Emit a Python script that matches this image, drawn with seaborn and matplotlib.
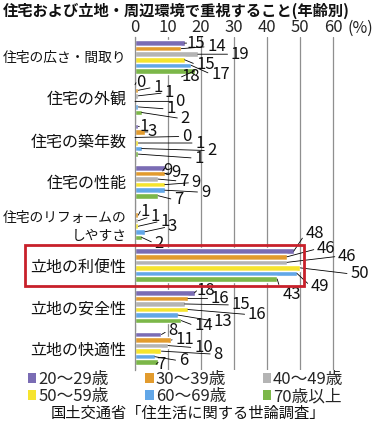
import matplotlib
matplotlib.use("Agg")
import matplotlib.pyplot as plt
import seaborn as sns
import pandas as pd
from matplotlib.patches import Patch, Rectangle

# ---------------- data ----------------
categories = ["住宅の広さ・間取り", "住宅の外観", "住宅の築年数", "住宅の性能",
              "住宅のリフォームの\nしやすさ", "立地の利便性", "立地の安全性", "立地の快適性"]
age_groups = ["20～29歳", "30～39歳", "40～49歳", "50～59歳", "60～69歳", "70歳以上"]
v20s = [15, 0, 1, 9, 0, 48, 18, 8]
v30s = [14, 1, 3, 9, 1, 46, 16, 11]
v40s = [19, 1, 0, 7, 1, 46, 15, 10]
v50s = [15, 0, 1, 9, 1, 50, 16, 8]
v60s = [17, 1, 2, 9, 3, 49, 13, 6]
v70s = [18, 2, 1, 7, 2, 43, 14, 7]
x_ticks = [0, 10, 20, 30, 40, 50, 60]
title = "住宅および立地・周辺環境で重視すること(年齢別)"
source = "国土交通省「住生活に関する世論調査」"
highlight_category = "立地の利便性"

# ---------------- style ----------------
colors = ["#7a6cb4", "#e29b2d", "#b4b4b4", "#f6e42e", "#62a7e8", "#7cb749"]
# label offsets (pixels, dx right, dy down) per category, per age group
label_offsets = [
    [(2, 0), (26, -2), (33, 0), (12, 5), (20, 9), (-13, 6)],
    [(1, -2), (15, -3), (26, -3), (40, 0), (28, 2), (39, 6)],
    [(1, 0), (3, 0), (47, -1), (57, 0), (66, 2), (56, 4)],
    [(-2, 3), (7, -1), (21, 2), (27, -2), (36, 2), (16, 4)],
    [None, (2, -4), (12, -4), (22, -5), (23, -5), (13, 6)],
    [(12, -18), (30, -8), (51, -6), (50, 6), (14, 13), (5, 16)],
    [(2, -2), (23, 0), (47, 1), (60, 5), (36, 6), (13, 5)],
    [(7, -4), (4, -1), (26, 2), (52, 3), (24, 4), (-2, 2)],
]

sns.set_style("white")
plt.rcParams["font.family"] = ["Noto Sans CJK JP", "DejaVu Sans"]

series = [v20s, v30s, v40s, v50s, v60s, v70s]
rows = []
for g, vals in zip(age_groups, series):
    for c, v in zip(categories, vals):
        rows.append({"category": c, "age": g, "value": v})
df = pd.DataFrame(rows)

fig = plt.figure(figsize=(3.73, 4.25), dpi=100)
ax = fig.add_axes([135 / 373, 1 - 370 / 425, 1 - 135 / 373, 333 / 425])

sns.barplot(data=df, y="category", x="value", hue="age", order=categories,
            hue_order=age_groups, palette=colors, orient="h", width=0.8,
            saturation=1, legend=False, ax=ax, errorbar=None)

ax.set_xlim(0, 72)
ax.set_ylim(7.52, -0.48)
ax.set_xticks(x_ticks)
ax.set_xticklabels([str(t) for t in x_ticks])
ax.xaxis.tick_top()
ax.tick_params(axis="x", length=0, pad=1, labelsize=12)
ax.tick_params(axis="y", length=0, pad=6)
for lbl in ax.get_yticklabels():
    txt = lbl.get_text()
    first = txt.split("\n")[0]
    lbl.set_fontsize(9.9 if len(first) > 7 else 11.5)
    lbl.set_multialignment("right")
    lbl.set_linespacing(1.35)
    lbl.set_color("#111111")
ax.set_xlabel("")
ax.set_ylabel("")
ax.grid(axis="x", color="#8f8f8f", lw=0.9)
ax.grid(axis="y", visible=False)
ax.set_axisbelow(True)
for s in ["top", "right", "bottom"]:
    ax.spines[s].set_visible(False)
ax.spines["left"].set_color("#8f8f8f")
ax.spines["left"].set_linewidth(0.9)

ax.text(1.0, 1.0, "(%)", transform=ax.transAxes, ha="right", va="bottom",
        fontsize=11.5, color="#222222")

# value labels with leader lines
for gi, cont in enumerate(ax.containers):
    for ci, bar in enumerate(cont):
        off = label_offsets[ci][gi]
        if off is None:
            continue
        yc = bar.get_y() + bar.get_height() / 2
        xe = bar.get_width()
        ax.annotate(f"{series[gi][ci]:d}", xy=(xe, yc), xytext=(off[0], -off[1]),
                    textcoords="offset pixels", ha="left", va="center",
                    fontsize=12, color="#111111",
                    arrowprops=dict(arrowstyle="-", lw=0.6, color="black",
                                    shrinkA=0, shrinkB=0, relpos=(0, 0.5)),
                    annotation_clip=False)

# red highlight box
hi = categories.index(highlight_category)
rect = Rectangle((-33.2, hi - 0.48), 84.2, 0.98, fill=False, edgecolor="#c8202a",
                 lw=2.0, clip_on=False, zorder=5)
ax.add_patch(rect)

fig.text(3 / 373, 1 - 11 / 425, title, ha="left", va="center", fontsize=11,
         fontweight="bold", color="#111111")

handles = [Patch(facecolor=c, edgecolor="none") for c in colors]
order = [0, 3, 1, 4, 2, 5]
fig.legend([handles[i] for i in order], [age_groups[i] for i in order], ncol=3,
           loc="upper left", bbox_to_anchor=(28 / 373, 1 - 371 / 425),
           frameon=False, fontsize=12, handlelength=0.5, handleheight=0.5,
           handletextpad=0.12, columnspacing=2.2, labelspacing=0.0,
           borderpad=0, borderaxespad=0)

fig.text(188 / 373, 1 - 413 / 425, source, ha="center", va="center", fontsize=11,
         color="#111111")

fig.savefig("out.png", dpi=100)
